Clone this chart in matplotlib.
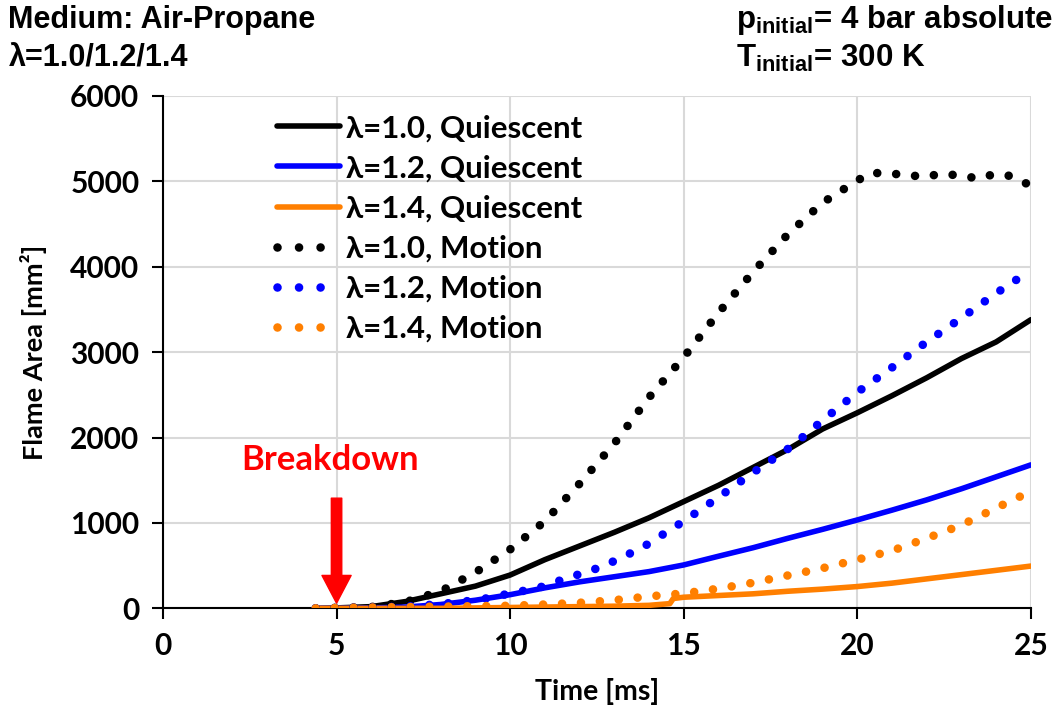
import numpy as np
import matplotlib
matplotlib.use("Agg")
import matplotlib.pyplot as plt
from matplotlib.patches import FancyArrowPatch

# --- data (time in ms, area in mm^2) ---
t_q = [4.4, 5, 6, 7, 8, 9, 10, 11, 12, 13, 14, 15, 16, 17, 18, 19, 20, 21, 22, 23, 24, 25]
a_q10 = [0, 5, 20, 80, 170, 260, 390, 570, 730, 890, 1060, 1250, 1440, 1650, 1860, 2100, 2290, 2490, 2700, 2925, 3120, 3380]
a_q12 = [0, 0, 5, 15, 45, 95, 160, 240, 310, 370, 430, 508, 610, 710, 820, 925, 1035, 1150, 1270, 1400, 1540, 1680]

t_q14 = [4.4, 5, 6, 7, 8, 9, 10, 11, 12, 13, 14, 14.6, 14.7, 15, 16, 17, 18, 19, 20, 21, 22, 23, 24, 25]
a_q14 = [0, 0, 0, 0, 0, 5, 10, 15, 20, 25, 35, 55, 115, 130, 150, 170, 200, 225, 255, 295, 345, 395, 445, 495]

t_m10 = [4.4, 5, 6, 7, 8, 9, 10, 11, 12, 13, 14, 15, 16, 17, 18, 19, 20, 20.4, 21, 21.9, 22.5, 23.5, 23.9, 24.4, 25]
a_m10 = [0, 5, 15, 75, 200, 420, 690, 1020, 1460, 1930, 2470, 2940, 3460, 3940, 4380, 4750, 5010, 5100, 5090, 5055, 5090, 5035, 5080, 5065, 4950]

t_m12 = [4.4, 5, 6, 7, 8, 9, 9.6, 10.1, 10.7, 11.2, 11.7, 12.3, 12.8, 13.3, 13.8, 15, 16, 17, 18.1, 19, 20, 21, 22, 23, 24, 25]
a_m12 = [0, 5, 10, 20, 50, 95, 136, 188, 223, 293, 363, 437, 516, 613, 710, 1020, 1300, 1590, 1894, 2200, 2530, 2820, 3120, 3400, 3690, 3960]

t_m14 = [4.4, 5, 6, 7, 8, 9, 10, 11, 12, 13, 14, 15, 16, 17, 18, 19, 20, 21, 22, 23, 24, 25]
a_m14 = [0, 5, 10, 15, 20, 25, 30, 45, 65, 95, 140, 175, 230, 300, 385, 470, 570, 675, 820, 975, 1175, 1370]

BLACK = "#000000"
BLUE = "#0000ff"
ORANGE = "#ff7f00"

plt.rcParams['font.family'] = ['Lato', 'DejaVu Sans']
plt.rcParams['font.weight'] = 'bold'
plt.rcParams['axes.labelweight'] = 'bold'
plt.rcParams['mathtext.fontset'] = 'custom'
plt.rcParams['mathtext.bf'] = 'Liberation Sans:bold'
plt.rcParams['mathtext.rm'] = 'Liberation Sans:bold'
plt.rcParams['mathtext.default'] = 'bf'

fig = plt.figure(figsize=(10.61, 7.13), dpi=100)
ax = fig.add_axes([0.1536, 0.1468, 0.818, 0.7186])

solid_lw = 4.0
dot_lw = 6.2
dotted = (0, (0.001, 2.2))

ax.plot(t_q, a_q10, color=BLACK, lw=solid_lw, label="λ=1.0, Quiescent", solid_capstyle='round', zorder=3)
ax.plot(t_q, a_q12, color=BLUE, lw=solid_lw, label="λ=1.2, Quiescent", solid_capstyle='round', zorder=3)
ax.plot(t_q14, a_q14, color=ORANGE, lw=solid_lw, label="λ=1.4, Quiescent", solid_capstyle='round', zorder=3)
ax.plot(t_m10, a_m10, color=BLACK, lw=dot_lw, ls=dotted, dash_capstyle='round', label="λ=1.0, Motion", zorder=4)
ax.plot(t_m12, a_m12, color=BLUE, lw=dot_lw, ls=dotted, dash_capstyle='round', label="λ=1.2, Motion", zorder=4)
ax.plot(t_m14, a_m14, color=ORANGE, lw=dot_lw, ls=dotted, dash_capstyle='round', label="λ=1.4, Motion", zorder=4)

ax.set_xlim(0, 25)
ax.set_ylim(0, 6000)
ax.set_xticks(np.arange(0, 26, 5))
ax.set_yticks(np.arange(0, 6001, 1000))
ax.grid(True, color="#d9d9d9", lw=1.5)
ax.set_axisbelow(True)
for s in ['top', 'right']:
    ax.spines[s].set_visible(False)
for s in ['left', 'bottom']:
    ax.spines[s].set_linewidth(1.5)
ax.tick_params(axis='both', direction='out', length=8, width=1.5, labelsize=21.5)
ax.tick_params(axis='y', pad=9)
ax.tick_params(axis='x', pad=9)
for lab in ax.get_xticklabels() + ax.get_yticklabels():
    lab.set_fontweight('bold')

ax.set_xlabel("Time [ms]", fontsize=20.5, fontweight='bold')
ax.set_ylabel("Flame Area [mm²]", fontsize=19.5, fontweight='bold')
ax.xaxis.set_label_coords(0.5, -0.135)
ax.yaxis.set_label_coords(-0.134, 0.5)

leg = ax.legend(loc='upper left', bbox_to_anchor=(0.117, 0.989), frameon=False,
                prop={'size': 22.5, 'weight': 'bold'},
                handlelength=2.0, handletextpad=0.2, labelspacing=0.39, borderaxespad=0)
for ln in leg.get_lines()[3:]:
    ln.set_linestyle((0, (0.001, 2.5)))
    ln.set_dash_capstyle('round')

# breakdown marker
arrow = FancyArrowPatch((5, 1290), (5, 60), arrowstyle='simple,head_width=21,head_length=20,tail_width=7.5',
                        mutation_scale=1, color='red', shrinkA=0, shrinkB=0, zorder=5)
ax.add_patch(arrow)
ax.text(4.81, 1740, "Breakdown", color='red', fontsize=25, fontweight='bold', ha='center', va='center', zorder=5)

# header notes
hdr = dict(fontweight='bold', va='center', ha='left', family=['Liberation Sans', 'DejaVu Sans'])
fig.text(0.008, 0.972, "Medium: Air-Propane", fontsize=22, **hdr)
fig.text(0.008, 0.918, "λ=1.0/1.2/1.4", fontsize=22, **hdr)
fig.text(0.694, 0.972, r"$\mathrm{p_{initial}}$= 4 bar absolute", fontsize=22.5, **hdr)
fig.text(0.694, 0.918, r"$\mathrm{T_{initial}}$= 300 K", fontsize=22.5, **hdr)

fig.savefig("out.png", dpi=100)
